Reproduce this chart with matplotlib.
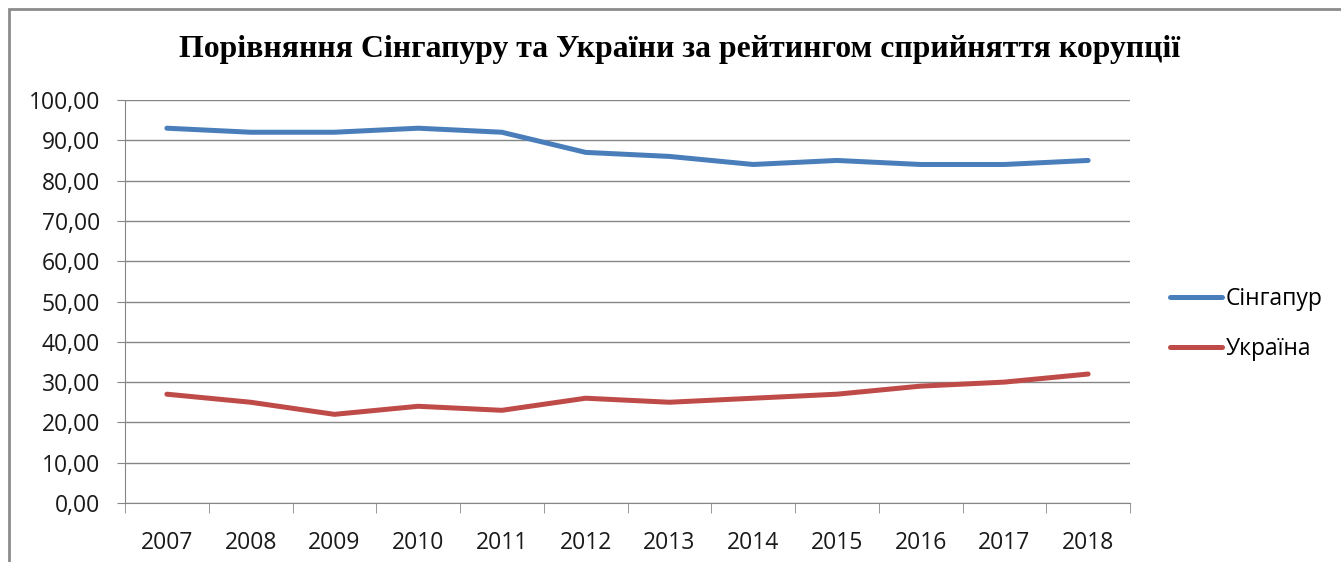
import matplotlib.pyplot as plt
from matplotlib.patches import Rectangle
from matplotlib.ticker import FuncFormatter

years = ["2007", "2008", "2009", "2010", "2011", "2012",
         "2013", "2014", "2015", "2016", "2017", "2018"]
singapore = [93, 92, 92, 93, 92, 87, 86, 84, 85, 84, 84, 85]
ukraine = [27, 25, 22, 24, 23, 26, 25, 26, 27, 29, 30, 32]
series_names = ["Сінгапур", "Україна"]

sans = ["Open Sans", "DejaVu Sans"]
serif = ["Liberation Serif", "DejaVu Serif"]

fig = plt.figure(figsize=(13.41, 5.62), dpi=100)
# outer chart frame (runs off the right and bottom like the screenshot)
fig.patches.append(Rectangle((9 / 1341, -0.1), 1.2, (562 - 9) / 562 + 0.1,
                             transform=fig.transFigure, fill=False,
                             edgecolor="#8c8c8c", linewidth=2))

ax = fig.add_axes([125 / 1341, 1 - 503 / 562, (1130 - 125) / 1341, (503 - 100) / 562])
x = list(range(len(years)))
ax.plot(x, singapore, color="#4A7EBB", linewidth=3.6, solid_joinstyle="round",
        solid_capstyle="round", label=series_names[0])
ax.plot(x, ukraine, color="#BE4B48", linewidth=3.6, solid_joinstyle="round",
        solid_capstyle="round", label=series_names[1])

ax.set_xlim(-0.5, len(years) - 0.5)
ax.set_ylim(0, 100)
ax.set_yticks(range(0, 101, 10))
ax.yaxis.set_major_formatter(FuncFormatter(lambda v, p: f"{v:.2f}".replace(".", ",")))
ax.grid(axis="y", color="#868686", linewidth=1)
ax.set_axisbelow(True)

ax.set_xticks(x)
ax.set_xticklabels(years)
ax.set_xticks([i - 0.5 for i in range(len(years) + 1)], minor=True)
ax.tick_params(axis="x", which="major", length=0, pad=20, labelsize=16.5)
ax.tick_params(axis="x", which="minor", length=7, color="#868686", direction="out")
ax.tick_params(axis="y", length=6, color="#868686", direction="out", pad=12, labelsize=16.5)
for lab in ax.get_xticklabels() + ax.get_yticklabels():
    lab.set_family(sans)
    lab.set_color("#1a1a1a")

for side in ["top", "right"]:
    ax.spines[side].set_visible(False)
ax.spines["left"].set_color("#868686")
ax.spines["bottom"].set_color("#868686")

fig.text(680 / 1341, 1 - 49 / 562, "Порівняння Сінгапуру та України за рейтингом сприйняття корупції",
         ha="center", va="center", fontsize=22.9, fontweight="bold", family=serif)

leg = fig.legend(loc="center left", bbox_to_anchor=(1149 / 1341, 1 - 324 / 562),
                 frameon=False, prop={"family": sans, "size": 16.5},
                 handlelength=2.3, handletextpad=0.15, labelspacing=1.1)

fig.savefig("out.png", dpi=100)
